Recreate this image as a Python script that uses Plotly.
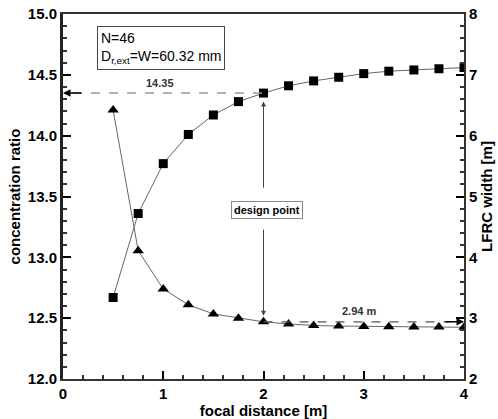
import plotly.graph_objects as go

focal = [0.5, 0.75, 1.0, 1.25, 1.5, 1.75, 2.0, 2.25, 2.5, 2.75, 3.0, 3.25, 3.5, 3.75, 4.0]
conc_ratio = [12.67, 13.36, 13.77, 14.01, 14.17, 14.28, 14.35, 14.41, 14.45, 14.48, 14.51, 14.53, 14.54, 14.55, 14.56]
lfrc_width = [6.42, 4.11, 3.48, 3.22, 3.07, 3.00, 2.94, 2.905, 2.88, 2.87, 2.865, 2.86, 2.855, 2.855, 2.85]

FONT = "Liberation Sans, Arial, sans-serif"

fig = go.Figure()
fig.add_trace(go.Scatter(x=focal, y=conc_ratio, mode="lines+markers",
                         line=dict(color="#666666", width=1),
                         marker=dict(symbol="square", size=9, color="black"),
                         showlegend=False))
fig.add_trace(go.Scatter(x=focal, y=lfrc_width, mode="lines+markers", yaxis="y2",
                         line=dict(color="#666666", width=1),
                         marker=dict(symbol="triangle-up", size=10, color="black"),
                         showlegend=False))

# dashed reference lines
fig.add_shape(type="line", x0=0.1, x1=2.0, y0=14.35, y1=14.35, xref="x", yref="y",
              line=dict(color="#999999", width=1.5, dash="dash"))
fig.add_shape(type="line", x0=2.0, x1=3.85, y0=2.94, y1=2.94, xref="x", yref="y2",
              line=dict(color="#555555", width=1.2, dash="dash"))

annotations = [
    dict(x=0.0, y=14.35, ax=0.2, ay=14.35, xref="x", yref="y", axref="x", ayref="y",
         text="", showarrow=True, arrowhead=2, arrowsize=1, arrowwidth=1.5, arrowcolor="black"),
    dict(x=4.0, y=2.94, ax=3.8, ay=2.94, xref="x", yref="y2", axref="x", ayref="y2",
         text="", showarrow=True, arrowhead=2, arrowsize=1, arrowwidth=1.5, arrowcolor="black"),
    dict(x=2.0, y=14.28, ax=2.0, ay=13.56, xref="x", yref="y", axref="x", ayref="y",
         text="", showarrow=True, arrowhead=2, arrowsize=1, arrowwidth=1, arrowcolor="#444444"),
    dict(x=2.0, y=12.52, ax=2.0, ay=13.24, xref="x", yref="y", axref="x", ayref="y",
         text="", showarrow=True, arrowhead=2, arrowsize=1, arrowwidth=1, arrowcolor="#444444"),
    dict(x=2.03, y=13.39, xref="x", yref="y", text="design point", showarrow=False,
         font=dict(family=FONT, size=11, color="black", weight="bold"),
         bgcolor="white", bordercolor="#888888", borderwidth=1, borderpad=2),
    dict(x=0.97, y=14.43, xref="x", yref="y", text="14.35", showarrow=False,
         font=dict(family=FONT, size=11, color="#333333", weight="bold")),
    dict(x=2.95, y=3.11, xref="x", yref="y2", text="2.94 m", showarrow=False,
         font=dict(family=FONT, size=11, color="#333333", weight="bold")),
    dict(x=0.34, y=14.9, xref="x", yref="y", xanchor="left", yanchor="top",
         text="N=46<br>D<sub>r,ext</sub>=W=60.32 mm", showarrow=False, align="left",
         font=dict(family=FONT, size=14, color="black"),
         bgcolor="white", bordercolor="#444444", borderwidth=1, borderpad=3),
]

fig.update_layout(
    width=498, height=419,
    margin=dict(l=63, r=34, t=14, b=40),
    plot_bgcolor="white", paper_bgcolor="white",
    font=dict(family=FONT, size=14, color="black"),
    annotations=annotations,
    xaxis=dict(range=[0, 4], dtick=1, tick0=0, ticks="inside", ticklen=8, tickwidth=2,
               tickcolor="black", automargin=False,
               minor=dict(dtick=0.2, ticks="inside", ticklen=4, tickcolor="#333333"),
               showgrid=False, zeroline=False, showline=True, linecolor="#333333",
               linewidth=2, mirror=True,
               tickfont=dict(family=FONT, size=15, weight="bold"),
               title=dict(text="focal distance [m]", standoff=0,
                          font=dict(family=FONT, size=15, weight="bold"))),
    yaxis=dict(range=[12, 15], dtick=0.5, tick0=12, tickformat=".1f", ticks="inside",
               ticklen=8, tickwidth=2, tickcolor="black", automargin=False,
               minor=dict(dtick=0.1, ticks="inside", ticklen=4, tickcolor="#333333"),
               showgrid=False, zeroline=False, showline=True, linecolor="#222222",
               linewidth=3,
               tickfont=dict(family=FONT, size=15, weight="bold"),
               title=dict(text="concentration ratio", standoff=4,
                          font=dict(family=FONT, size=15, weight="bold"))),
    yaxis2=dict(range=[2, 8], dtick=1, tick0=2, overlaying="y", side="right",
                ticks="inside", ticklen=8, tickwidth=2, tickcolor="black", automargin=False,
                minor=dict(dtick=0.2, ticks="inside", ticklen=4, tickcolor="#333333"),
                showgrid=False, zeroline=False, showline=True, linecolor="#333333",
                linewidth=2,
                tickfont=dict(family=FONT, size=15, weight="bold"),
                title=dict(text="LFRC width [m]", standoff=4,
                           font=dict(family=FONT, size=15, weight="bold"))),
)

fig.write_html("out.html")
